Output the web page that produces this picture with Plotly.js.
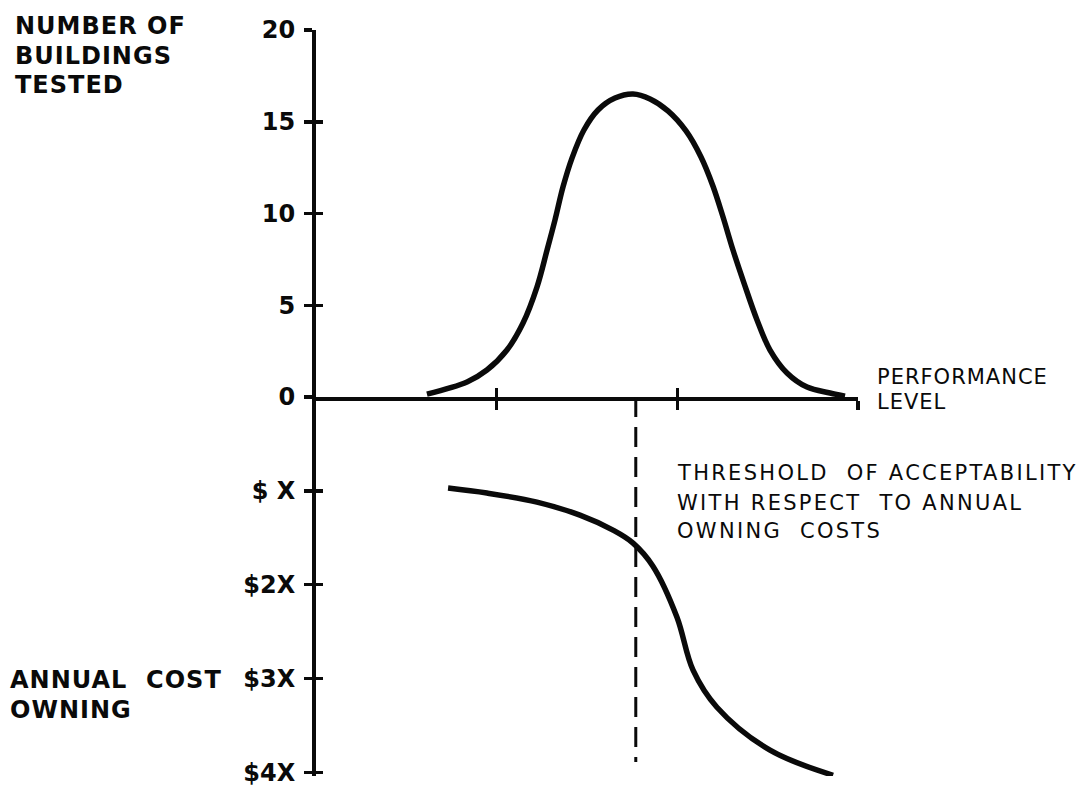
<!DOCTYPE html>
<html>
<head>
<meta charset="utf-8">
<script src="https://cdn.plot.ly/plotly-3.0.1.min.js"></script>
<style>
  html, body { margin: 0; padding: 0; background: #fff; }
  #chart { width: 1086px; height: 789px; }
  .annotation-text { letter-spacing: 1px; }
  .annotation[data-index="7"] .annotation-text,
  .annotation[data-index="8"] .annotation-text,
  .annotation[data-index="9"] .annotation-text { letter-spacing: 2.3px; }
</style>
</head>
<body>
<div id="chart"></div>
<script>
// ---- Data ----
// Top panel: number of buildings tested vs performance level
const perfX = [0.614, 0.836, 0.946, 1.057, 1.146, 1.223, 1.279, 1.323, 1.367, 1.417, 1.483, 1.561, 1.655, 1.755, 1.849, 1.948, 2.048, 2.131, 2.197, 2.253, 2.308, 2.369, 2.441, 2.513, 2.607, 2.718, 2.845, 2.928];
const buildingsTested = [0.16, 0.82, 1.47, 2.56, 4.03, 5.99, 8.01, 9.65, 11.44, 13.02, 14.55, 15.64, 16.29, 16.51, 16.24, 15.59, 14.50, 13.08, 11.50, 9.81, 8.01, 6.21, 4.20, 2.56, 1.31, 0.54, 0.22, 0.05];

// Bottom panel: annual owning cost (in multiples of $X) vs performance level
const costX = [0.731, 0.946, 1.223, 1.461, 1.644, 1.755, 1.865, 1.998, 2.087, 2.219, 2.513, 2.862];
const annualCost = [0.971, 1.024, 1.120, 1.259, 1.419, 1.557, 1.803, 2.347, 2.912, 3.307, 3.765, 4.032];

// Threshold of acceptability
const thresholdX = 1.77;
const thresholdCostSpan = [0, 3.89];

// Tick values / labels
const countTicks = [0, 5, 10, 15, 20];
const countTickText = ['0', '5', '10', '15', '20'];
const costTicks = [1, 2, 3, 4];
const costTickText = ['$ X', '$2X', '$3X', '$4X'];
const perfTicks = [1, 2, 3];

// ---- Geometry helpers (plot area in pixels) ----
const W = 1086, H = 789;
const L = 316, R = 858, T = 30, B = 776;
const px = x => (x - L) / (R - L);
const py = y => (B - y) / (B - T);
const split = py(397); // y = 0 line

const INK = '#0a0a0a';
const FAM = 'DejaVu Sans, Liberation Sans, Arial, sans-serif';

const traces = [
  { x: perfX, y: buildingsTested, xaxis: 'x', yaxis: 'y', mode: 'lines',
    line: { color: INK, width: 5.5, shape: 'spline', smoothing: 1 }, hoverinfo: 'skip' },
  { x: costX, y: annualCost, xaxis: 'x', yaxis: 'y2', mode: 'lines',
    line: { color: INK, width: 5.5, shape: 'spline', smoothing: 1 }, hoverinfo: 'skip' },
  { x: [thresholdX, thresholdX], y: thresholdCostSpan, xaxis: 'x', yaxis: 'y2', mode: 'lines',
    line: { color: INK, width: 3, dash: '20px,10px' }, hoverinfo: 'skip' },
  // empty helpers so the overlay (inside-tick) axes are drawn
  { x: [], y: [], xaxis: 'x2', yaxis: 'y', mode: 'lines' },
  { x: [], y: [], xaxis: 'x', yaxis: 'y3', mode: 'lines' },
  { x: [], y: [], xaxis: 'x', yaxis: 'y4', mode: 'lines' }
];

const tickFont = { family: FAM, size: 24, color: INK, weight: 'bold' };
const baseAx = { showgrid: false, zeroline: false, fixedrange: true };

const layout = {
  width: W, height: H,
  margin: { l: L, r: W - R, t: T, b: H - B },
  paper_bgcolor: '#fff', plot_bgcolor: '#fff',
  showlegend: false,
  xaxis: Object.assign({}, baseAx, {
    domain: [0, 1], anchor: 'y', range: [0, 3],
    tickmode: 'array', tickvals: perfTicks, showticklabels: false,
    ticks: 'outside', ticklen: 9, tickwidth: 3.5, tickcolor: INK,
    showline: true, linewidth: 4, linecolor: INK
  }),
  xaxis2: Object.assign({}, baseAx, {
    overlaying: 'x', anchor: 'y', side: 'bottom', range: [0, 3],
    tickmode: 'array', tickvals: perfTicks, showticklabels: false,
    ticks: 'inside', ticklen: 9, tickwidth: 3.5, tickcolor: INK, showline: false
  }),
  yaxis: Object.assign({}, baseAx, {
    domain: [split, 1], anchor: 'x', range: [0, 20],
    tickmode: 'array', tickvals: countTicks, ticktext: countTickText,
    ticks: 'outside', ticklen: 8, tickwidth: 3.5, tickcolor: INK,
    showline: true, linewidth: 4, linecolor: INK,
    tickfont: tickFont, ticklabelstandoff: 4
  }),
  yaxis3: Object.assign({}, baseAx, {
    overlaying: 'y', anchor: 'x', range: [0, 20],
    tickmode: 'array', tickvals: countTicks.slice(1), showticklabels: false,
    ticks: 'inside', ticklen: 7, tickwidth: 3.5, tickcolor: INK, showline: false
  }),
  yaxis2: Object.assign({}, baseAx, {
    domain: [0, split], anchor: 'x', range: [4.04, 0],
    tickmode: 'array', tickvals: costTicks, ticktext: costTickText,
    ticks: 'outside', ticklen: 8, tickwidth: 3.5, tickcolor: INK,
    showline: true, linewidth: 4, linecolor: INK,
    tickfont: tickFont, ticklabelstandoff: 4
  }),
  yaxis4: Object.assign({}, baseAx, {
    overlaying: 'y2', anchor: 'x', range: [4.04, 0],
    tickmode: 'array', tickvals: costTicks, showticklabels: false,
    ticks: 'inside', ticklen: 7, tickwidth: 3.5, tickcolor: INK, showline: false
  }),
  annotations: []
};

function label(text, x, yCenter, size, bold) {
  layout.annotations.push({
    xref: 'paper', yref: 'paper', x: px(x), y: py(yCenter),
    xanchor: 'left', yanchor: 'middle', align: 'left', showarrow: false,
    text: text,
    font: { family: FAM, size: size, color: INK, weight: bold ? 'bold' : 'normal' }
  });
}

// Left (bold) labels  (indices 0-4)
label('NUMBER OF', 13, 26, 24, true);
label('BUILDINGS', 13, 56, 24, true);
label('TESTED', 13, 85, 24, true);
label('ANNUAL&nbsp;&nbsp;COST', 8, 680, 24, true);
label('OWNING', 8, 710, 24, true);

// Right (regular) labels  (indices 5-9)
label('PERFORMANCE', 875, 377, 21, false);
label('LEVEL', 875, 402, 21, false);
label('THRESHOLD&nbsp;&nbsp;OF ACCEPTABILITY', 675, 473, 21, false);
label('WITH RESPECT&nbsp;&nbsp;TO ANNUAL', 675, 503, 21, false);
label('OWNING&nbsp;&nbsp;COSTS', 675, 531, 21, false);

Plotly.newPlot('chart', traces, layout, { displayModeBar: false, staticPlot: true });
</script>
</body>
</html>
